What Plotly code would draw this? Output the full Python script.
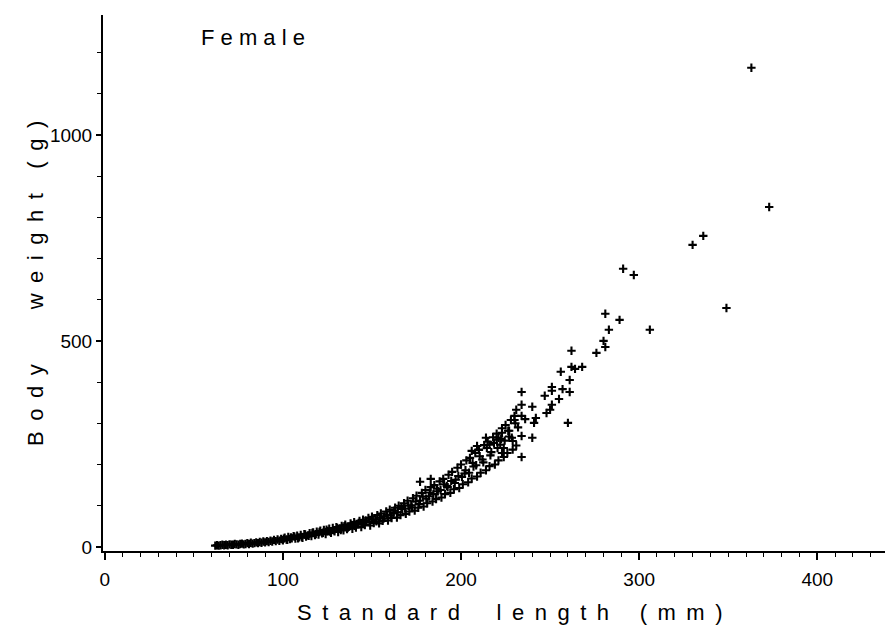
import plotly.graph_objects as go

# Dense band of females, first reading (standard length mm, body weight g)
band_a_length = [
    62, 63, 64, 65, 66, 67, 68, 69, 70, 71, 72, 73, 74, 75, 76, 77, 78, 79, 80, 81,
    82, 83, 84, 85, 86, 87, 88, 89, 90, 91, 92, 93, 94, 95, 96, 97, 98, 99, 100, 101,
    102, 103, 104, 105, 106, 107, 108, 109, 110, 111, 112, 113, 114, 115, 116, 117, 118, 119, 120, 121,
    122, 123, 124, 125, 126, 127, 128, 129, 130, 131, 132, 133, 134, 135, 136, 137, 138, 139, 140, 141,
    142, 143, 144, 145, 146, 147, 148, 149, 150, 151, 152, 153, 154, 155, 156, 157, 158, 159, 160, 161,
    162, 163, 164, 165, 166, 167, 168, 169, 170, 171, 172, 173, 174, 175, 176, 177, 178, 179, 180, 181,
    182, 183, 184, 185, 186, 187, 188, 189, 190, 191, 192, 193, 194, 195, 196, 197, 198, 199, 200, 201,
    202, 203, 204, 205, 206, 207, 208, 209, 210, 211, 212, 213, 214, 215, 216, 217, 218, 219, 220, 221,
    222, 223, 224, 225, 226, 227, 228, 229, 230, 231, 232]
band_a_weight = [
    3, 4, 3, 4, 5, 4, 5, 4, 6, 5, 5, 7, 6, 5, 7, 8, 6, 7, 9, 7,
    10, 8, 9, 11, 9, 12, 10, 13, 11, 14, 12, 15, 13, 17, 14, 18, 15, 19, 16, 22,
    18, 24, 19, 21, 26, 20, 27, 23, 29, 22, 31, 25, 28, 33, 26, 35, 29, 37, 30, 39,
    33, 41, 31, 38, 44, 34, 46, 38, 48, 36, 45, 51, 40, 54, 43, 49, 57, 44, 60, 47,
    55, 63, 48, 66, 53, 61, 70, 52, 73, 58, 67, 77, 57, 81, 63, 74, 86, 64, 90, 70,
    82, 95, 71, 100, 77, 92, 106, 80, 112, 86, 101, 118, 88, 124, 95, 112, 131, 98, 138, 106,
    123, 145, 110, 150, 116, 135, 159, 120, 165, 128, 148, 175, 131, 182, 140, 163, 192, 143, 200, 152,
    178, 210, 157, 216, 166, 195, 228, 171, 236, 180, 212, 247, 186, 255, 196, 230, 266, 200, 275, 210,
    248, 288, 218, 296, 228, 268, 308, 236, 318, 246, 290]

# Dense band, second reading (fish between the first ones)
band_b_length = [
    100.5, 102.5, 104.5, 106.5, 108.5, 110.5, 112.5, 114.5, 116.5, 118.5, 120.5, 122.5, 124.5, 126.5, 128.5, 130.5,
    132.5, 134.5, 136.5, 138.5, 140.5, 142.5, 144.5, 146.5, 148.5, 150.5, 152.5, 154.5, 156.5, 158.5, 160.5,
    162.5, 164.5, 166.5, 168.5, 170.5, 172.5, 174.5, 176.5, 178.5, 180.5, 182.5, 184.5, 186.5, 188.5, 190.5,
    192.5, 194.5, 196.5, 198.5, 200.5, 202.5, 204.5, 206.5, 208.5, 210.5, 212.5, 214.5, 216.5, 218.5, 220.5,
    222.5, 224.5, 226.5, 228.5, 230.5,
    177, 183]
band_b_weight = [
    20, 17, 23, 25, 21, 24, 30, 27, 34, 31, 36, 34, 42, 37, 40, 46,
    41, 50, 47, 53, 51, 58, 56, 64, 60, 66, 62, 71, 69, 78, 76,
    88, 84, 97, 93, 100, 96, 110, 104, 122, 117, 132, 128, 141, 138, 152,
    145, 160, 155, 172, 170, 186, 180, 204, 198, 220, 205, 240, 222, 252, 240,
    262, 258, 282, 265, 300,
    158, 165]

# Larger, scattered females
big_length = [206, 209, 210, 214, 216, 220, 221, 223, 223, 224, 227, 229, 230, 231, 234, 234, 234, 234, 234, 236,
              240, 240, 241, 242, 247, 248, 250, 251, 251, 251, 255, 256, 257, 260, 261, 261, 262, 262, 264, 268,
              276, 280, 281, 281, 283, 289, 291, 297, 306, 330, 336, 349, 363, 373]
big_weight = [233, 245, 235, 265, 248, 260, 265, 277, 228, 240, 282, 257, 308, 333, 376, 345, 318, 269, 218, 310,
              340, 265, 301, 313, 367, 325, 333, 345, 388, 379, 359, 425, 383, 301, 405, 376, 476, 437, 432, 437,
              471, 500, 485, 566, 527, 551, 675, 660, 527, 733, 755, 580, 1163, 825]

x_tick_vals = [0, 100, 200, 300, 400]
x_tick_text = ["0", "100", "200", "300", "400"]
y_tick_vals = [0, 500, 1000]
y_tick_text = ["0", "500", "1000"]

assert len(band_a_length) == len(band_a_weight)
assert len(band_b_length) == len(band_b_weight)
assert len(big_length) == len(big_weight)

length = band_a_length + band_b_length + big_length
weight = band_a_weight + band_b_weight + big_weight

FONT = "Liberation Sans, Arial, sans-serif"
TS = "\u2009"  # thin space for letter spacing


def spaced(words, gaps):
    out = ""
    for i, w in enumerate(words):
        out += (" " + TS).join(list(w))
        if i < len(gaps):
            out += gaps[i]
    return out


fig = go.Figure()
fig.add_trace(go.Scatter(
    x=length, y=weight, mode="markers",
    marker=dict(symbol="cross-thin", size=6, color="black",
                line=dict(color="black", width=2.1)),
    showlegend=False, hoverinfo="skip",
))

W, H = 893, 629
l, r, t, b = 95, 0, 7, 86
pw, ph = W - l - r, H - t - b


def px_to_paper(px, py):
    return (px - l) / pw, (H - b - py) / ph


fx, fy = px_to_paper(245, 30)
sx, sy = px_to_paper(502, 604)
bx, by = px_to_paper(27, 276)

fig.update_layout(
    width=W, height=H,
    margin=dict(l=l, r=r, t=t, b=b),
    paper_bgcolor="white", plot_bgcolor="white",
    font=dict(family=FONT, color="black", size=19),
    xaxis=dict(
        range=[-1, 447], showgrid=False, zeroline=False,
        showline=True, linecolor="black", linewidth=2,
        ticks="outside", ticklen=7, tickwidth=1.5, tickcolor="black",
        tickvals=x_tick_vals, ticktext=x_tick_text,
        ticklabelstandoff=3,
        minor=dict(dtick=10, tick0=0, ticks="outside", ticklen=4, tickwidth=1.2, tickcolor="black"),
        tickfont=dict(size=19, family=FONT),
    ),
    yaxis=dict(
        range=[-10, 1291], showgrid=False, zeroline=False,
        showline=True, linecolor="black", linewidth=2,
        ticks="outside", ticklen=5, tickwidth=1.5, tickcolor="black",
        tickvals=y_tick_vals, ticktext=y_tick_text,
        ticklabelstandoff=0,
        minor=dict(dtick=100, tick0=0, ticks="outside", ticklen=4, tickwidth=1.2, tickcolor="black"),
        tickfont=dict(size=19, family=FONT),
    ),
    annotations=[
        dict(text="F e m a l e", x=fx, y=fy, xref="paper", yref="paper",
             xanchor="center", yanchor="middle",
             showarrow=False, font=dict(size=22, family=FONT)),
        dict(text=spaced(["Standard", "length", "(mm)"], ["      ", "     "]),
             x=sx, y=sy, xref="paper", yref="paper", showarrow=False,
             xanchor="center", yanchor="middle",
             font=dict(size=22, family=FONT)),
        dict(text=spaced(["Body", "weight", "(g)"], ["         ", "    "]),
             x=bx, y=by, xref="paper", yref="paper", showarrow=False, textangle=-90,
             xanchor="center", yanchor="middle",
             font=dict(size=22, family=FONT)),
    ],
)

fig.write_html("out.html")
